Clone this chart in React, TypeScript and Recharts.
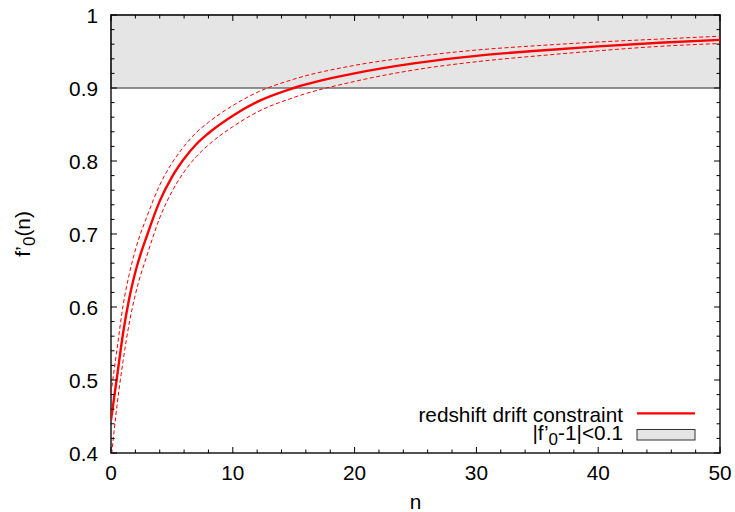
import React from "react";
import { LineChart, Line, XAxis, YAxis, ReferenceArea, Legend } from "recharts";

// values
const nValues = [0, 0.5, 1, 1.5, 2, 3, 4, 5, 6, 7, 8, 10, 12, 15, 20, 25, 30, 35, 40, 45, 50];
const centre = [0.445, 0.505, 0.565, 0.612, 0.648, 0.7, 0.745, 0.778, 0.803, 0.823, 0.838, 0.862, 0.881, 0.9, 0.92, 0.934, 0.944, 0.951, 0.957, 0.962, 0.966];
const upper = [0.482, 0.543, 0.603, 0.645, 0.678, 0.726, 0.767, 0.797, 0.82, 0.839, 0.853, 0.876, 0.894, 0.912, 0.931, 0.943, 0.952, 0.958, 0.963, 0.967, 0.971];
const lower = [0.39, 0.466, 0.527, 0.578, 0.617, 0.673, 0.722, 0.758, 0.785, 0.806, 0.822, 0.847, 0.867, 0.887, 0.909, 0.925, 0.936, 0.944, 0.951, 0.957, 0.961];

const xMajor = [0, 10, 20, 30, 40, 50];
const xTickLabels = ["0", "10", "20", "30", "40", "50"];
const yMajor = [0.4, 0.5, 0.6, 0.7, 0.8, 0.9, 1];
const yTickLabels = ["0.4", "0.5", "0.6", "0.7", "0.8", "0.9", "1"];

const bandLow = 0.9;
const bandHigh = 1;

const xTicks = xMajor
  .flatMap((v) => [0, 2, 4, 6, 8].map((k) => v + k))
  .filter((v) => v <= 50);
const yTicks = yMajor
  .flatMap((v) => [0, 1, 2, 3, 4].map((k) => +(v + k * 0.02).toFixed(2)))
  .filter((v) => v <= 1);

const rows = nValues.map((n, i) => ({
  n,
  centre: centre[i],
  upper: upper[i],
  lower: lower[i],
}));

const W = 735;
const H = 512;
const PLOT = { left: 111, right: 720, top: 15, bottom: 453 };
const FONT = "'Liberation Sans', Arial, sans-serif";
const FS = 20.8;
const RED = "#ff0000";

function XTick(props: any) {
  const { x, payload } = props;
  const i = xMajor.indexOf(payload.value);
  const len = i >= 0 ? 6 : 3.5;
  return (
    <g>
      <line x1={x} x2={x} y1={PLOT.bottom} y2={PLOT.bottom - len} stroke="#000" strokeWidth={1} />
      <line x1={x} x2={x} y1={PLOT.top} y2={PLOT.top + len} stroke="#000" strokeWidth={1} />
      {i >= 0 && (
        <text x={x} y={PLOT.bottom + 27} textAnchor="middle" fontFamily={FONT} fontSize={FS} fill="#000">
          {xTickLabels[i]}
        </text>
      )}
    </g>
  );
}

function YTick(props: any) {
  const { y, payload } = props;
  const i = yMajor.indexOf(payload.value);
  const len = i >= 0 ? 6 : 3.5;
  return (
    <g>
      <line x1={PLOT.left} x2={PLOT.left + len} y1={y} y2={y} stroke="#000" strokeWidth={1} />
      <line x1={PLOT.right} x2={PLOT.right - len} y1={y} y2={y} stroke="#000" strokeWidth={1} />
      {i >= 0 && (
        <text x={98} y={y + 7.5} textAnchor="end" fontFamily={FONT} fontSize={FS} fill="#000">
          {yTickLabels[i]}
        </text>
      )}
    </g>
  );
}

function LegendBox() {
  const textRight = 623;
  const sx1 = 637;
  const sx2 = 695;
  return (
    <div style={{ position: "relative", width: 0, height: 0 }}>
      <svg width={W} height={H} style={{ position: "absolute", left: 0, top: 0, overflow: "visible" }}>
        <text x={textRight} y={421.5} textAnchor="end" fontFamily={FONT} fontSize={FS} fill="#000">
          redshift drift constraint
        </text>
        <line x1={sx1} x2={sx2} y1={413.3} y2={413.3} stroke={RED} strokeWidth={2.2} />
        <text x={textRight} y={440} textAnchor="end" fontFamily={FONT} fontSize={FS} fill="#000">
          |f’<tspan fontSize={17} dy={5}>0</tspan>
          <tspan dy={-5}>-1|&lt;0.1</tspan>
        </text>
        <rect x={sx1} y={429.5} width={sx2 - sx1} height={10.5} fill="#e5e5e5" stroke="#333" strokeWidth={1} />
      </svg>
    </div>
  );
}

export default function App() {
  return (
    <div style={{ position: "absolute", left: 0, top: 0, width: W, height: H, background: "#fff" }}>
      <LineChart
        width={W}
        height={H}
        data={rows}
        margin={{ top: PLOT.top, right: W - PLOT.right, bottom: 0, left: 0 }}
      >
        <XAxis
          dataKey="n"
          type="number"
          domain={[0, 50]}
          ticks={xTicks}
          interval={0}
          tick={(p: any) => <XTick {...p} />}
          tickLine={false}
          axisLine={false}
          height={H - PLOT.bottom}
          allowDataOverflow
          label={({ viewBox }: any) => (
            <text
              x={viewBox.x + viewBox.width / 2}
              y={viewBox.y + viewBox.height - 3}
              textAnchor="middle"
              fontFamily={FONT}
              fontSize={FS}
              fill="#000"
            >
              n
            </text>
          )}
        />
        <YAxis
          type="number"
          domain={[0.4, 1]}
          ticks={yTicks}
          interval={0}
          tick={(p: any) => <YTick {...p} />}
          tickLine={false}
          axisLine={false}
          width={PLOT.left}
          allowDataOverflow
          label={({ viewBox }: any) => {
            const cx = 30;
            const cy = viewBox.y + viewBox.height / 2;
            return (
              <text
                x={cx}
                y={cy}
                transform={`rotate(-90, ${cx}, ${cy})`}
                textAnchor="middle"
                fontFamily={FONT}
                fontSize={FS}
                fill="#000"
              >
                f’<tspan fontSize={17} dy={5}>0</tspan>
                <tspan dy={-5}>(n)</tspan>
              </text>
            );
          }}
        />
        <ReferenceArea
          y1={bandLow}
          y2={bandHigh}
          fill="#e5e5e5"
          fillOpacity={1}
          stroke="#6e6e6e"
          strokeWidth={1.5}
        />
        <ReferenceArea
          x1={0}
          x2={50}
          y1={0.4}
          y2={1}
          fill="none"
          stroke="#1a1a1a"
          strokeWidth={1.5}
        />
        <Line
          dataKey="upper"
          type="monotone"
          stroke={RED}
          strokeWidth={1}
          strokeDasharray="4 2.5"
          dot={false}
          isAnimationActive={false}
        />
        <Line
          dataKey="lower"
          type="monotone"
          stroke={RED}
          strokeWidth={1}
          strokeDasharray="4 2.5"
          dot={false}
          isAnimationActive={false}
        />
        <Line
          dataKey="centre"
          type="monotone"
          stroke={RED}
          strokeWidth={2.4}
          dot={false}
          isAnimationActive={false}
        />
        <Legend
          content={() => <LegendBox />}
          wrapperStyle={{ left: 0, top: 0, width: 0, height: 0 }}
        />
      </LineChart>
    </div>
  );
}
